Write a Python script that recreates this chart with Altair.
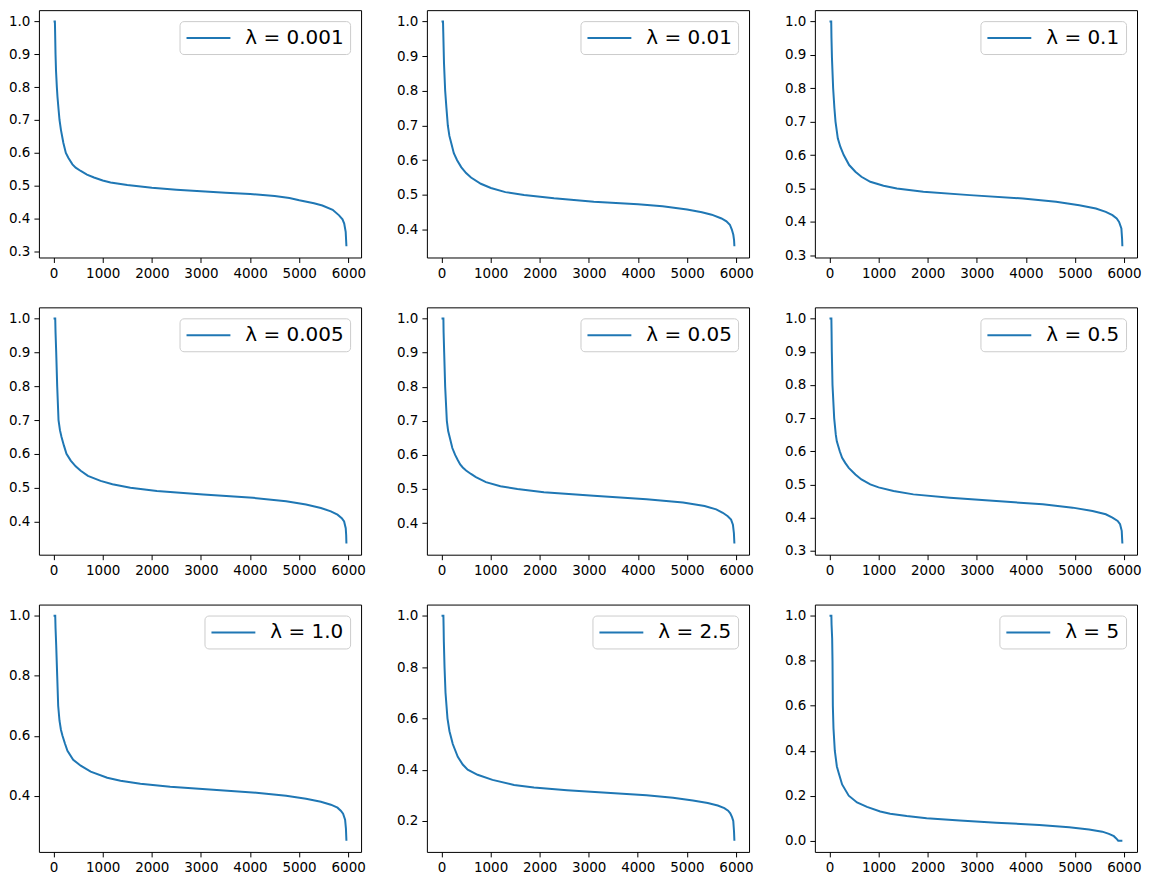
import altair as alt
import pandas as pd

COLOR = "#1f77b4"
X_TICKS = [0, 1000, 2000, 3000, 4000, 5000, 6000]

# ---- panel data ----
label_p1 = "λ = 0.001"
x_p1 = [0, 27, 30, 40, 50, 67, 80, 100, 121, 150, 200, 250, 300, 384, 450, 553, 680, 823, 1000, 1160,
        1500, 2000, 2500, 3000, 3500, 4000, 4500, 4800, 5000, 5300, 5470, 5680, 5810, 5880, 5915, 5945, 5960]
y_p1 = [1.0, 1.0, 0.98, 0.90, 0.85, 0.80, 0.77, 0.735, 0.70, 0.67, 0.63, 0.60, 0.585, 0.565, 0.555, 0.545,
        0.534, 0.525, 0.516, 0.51, 0.502, 0.494, 0.488, 0.483, 0.479, 0.475, 0.469, 0.463, 0.456, 0.447,
        0.44, 0.427, 0.41, 0.398, 0.385, 0.36, 0.316]
yt_p1 = [0.3, 0.4, 0.5, 0.6, 0.7, 0.8, 0.9, 1.0]

label_p2 = "λ = 0.01"
x_p2 = [0, 30, 35, 50, 74, 100, 128, 160, 196, 250, 317, 400, 500, 600, 800, 1005, 1300, 1680, 2290,
        3100, 4000, 4500, 5000, 5300, 5500, 5700, 5800, 5870, 5910, 5940, 5955, 5962]
y_p2 = [1.0, 1.0, 0.97, 0.88, 0.80, 0.75, 0.70, 0.67, 0.65, 0.62, 0.60, 0.58, 0.563, 0.55, 0.532, 0.52,
        0.508, 0.50, 0.49, 0.48, 0.473, 0.467, 0.458, 0.45, 0.443, 0.432, 0.424, 0.414, 0.40, 0.385,
        0.37, 0.352]
yt_p2 = [0.4, 0.5, 0.6, 0.7, 0.8, 0.9, 1.0]

label_p3 = "λ = 0.1"
x_p3 = [0, 35, 40, 50, 74, 100, 122, 169, 220, 290, 400, 527, 650, 831, 1100, 1372, 1912, 2858, 3940,
        4615, 5088, 5426, 5628, 5764, 5850, 5899, 5946, 5960, 5966]
y_p3 = [1.0, 1.0, 0.95, 0.89, 0.80, 0.74, 0.70, 0.65, 0.625, 0.60, 0.57, 0.55, 0.535, 0.52, 0.508, 0.50,
        0.49, 0.48, 0.47, 0.46, 0.45, 0.44, 0.43, 0.42, 0.41, 0.40, 0.38, 0.35, 0.327]
yt_p3 = [0.3, 0.4, 0.5, 0.6, 0.7, 0.8, 0.9, 1.0]

label_p4 = "λ = 0.005"
x_p4 = [0, 34, 40, 54, 74, 101, 130, 162, 210, 263, 350, 450, 553, 700, 958, 1200, 1565, 2105, 3050,
        4062, 4737, 5142, 5445, 5648, 5783, 5870, 5918, 5951, 5960, 5965]
y_p4 = [1.0, 1.0, 0.96, 0.90, 0.80, 0.70, 0.67, 0.65, 0.625, 0.60, 0.58, 0.563, 0.55, 0.535, 0.52, 0.51,
        0.50, 0.49, 0.48, 0.47, 0.46, 0.45, 0.44, 0.43, 0.42, 0.41, 0.40, 0.38, 0.36, 0.335]
yt_p4 = [0.4, 0.5, 0.6, 0.7, 0.8, 0.9, 1.0]

label_p5 = "λ = 0.05"
x_p5 = [0, 38, 42, 54, 74, 108, 135, 169, 220, 277, 330, 380, 432, 500, 600, 700, 904, 1200, 1545, 2085,
        3097, 4177, 4919, 5358, 5594, 5729, 5830, 5897, 5935, 5955, 5965]
y_p5 = [1.0, 1.0, 0.96, 0.90, 0.80, 0.70, 0.67, 0.65, 0.62, 0.60, 0.585, 0.572, 0.563, 0.554, 0.544,
        0.535, 0.52, 0.508, 0.50, 0.49, 0.48, 0.47, 0.46, 0.45, 0.44, 0.43, 0.42, 0.41, 0.395, 0.37, 0.34]
yt_p5 = [0.4, 0.5, 0.6, 0.7, 0.8, 0.9, 1.0]

label_p6 = "λ = 0.5"
x_p6 = [0, 38, 42, 47, 61, 95, 128, 149, 209, 257, 320, 392, 527, 650, 831, 1000, 1304, 1709, 2453, 3399,
        4345, 4953, 5358, 5628, 5764, 5870, 5919, 5953, 5966]
y_p6 = [1.0, 1.0, 0.96, 0.90, 0.80, 0.70, 0.65, 0.63, 0.60, 0.58, 0.565, 0.55, 0.53, 0.515, 0.50,
        0.491, 0.48, 0.47, 0.46, 0.45, 0.44, 0.43, 0.42, 0.41, 0.40, 0.39, 0.38, 0.36, 0.322]
yt_p6 = [0.3, 0.4, 0.5, 0.6, 0.7, 0.8, 0.9, 1.0]

label_p7 = "λ = 1.0"
x_p7 = [0, 34, 40, 54, 74, 94, 121, 150, 182, 230, 283, 400, 553, 756, 1093, 1363, 1768, 2375, 3252,
        4130, 4737, 5142, 5445, 5648, 5783, 5850, 5897, 5938, 5955, 5965]
y_p7 = [1.0, 1.0, 0.96, 0.90, 0.80, 0.70, 0.65, 0.62, 0.60, 0.575, 0.55, 0.52, 0.50, 0.48, 0.46, 0.45,
        0.44, 0.43, 0.42, 0.41, 0.40, 0.39, 0.38, 0.37, 0.36, 0.35, 0.34, 0.32, 0.29, 0.25]
yt_p7 = [0.4, 0.6, 0.8, 1.0]

label_p8 = "λ = 2.5"
x_p8 = [0, 38, 42, 47, 61, 81, 121, 162, 229, 331, 432, 533, 735, 1039, 1478, 1883, 2557, 3367, 4177,
        4717, 5122, 5425, 5628, 5763, 5840, 5884, 5920, 5945, 5960, 5968]
y_p8 = [1.0, 1.0, 0.96, 0.90, 0.80, 0.70, 0.60, 0.55, 0.50, 0.45, 0.42, 0.40, 0.38, 0.36, 0.34, 0.33,
        0.32, 0.31, 0.30, 0.29, 0.28, 0.27, 0.26, 0.25, 0.24, 0.23, 0.215, 0.20, 0.16, 0.123]
yt_p8 = [0.2, 0.4, 0.6, 0.8, 1.0]

label_p9 = "λ = 5"
x_p9 = [0, 38, 42, 54, 61, 68, 81, 108, 150, 189, 257, 392, 561, 764, 1034, 1236, 1574, 1980, 2655,
        3399, 4277, 4885, 5291, 5561, 5696, 5797, 5845, 5885, 5970]
y_p9 = [1.0, 1.0, 0.96, 0.90, 0.80, 0.60, 0.50, 0.40, 0.33, 0.30, 0.25, 0.20, 0.17, 0.15, 0.13, 0.12,
        0.11, 0.10, 0.09, 0.08, 0.07, 0.06, 0.05, 0.04, 0.03, 0.02, 0.01, 0.0, 0.0]
yt_p9 = [0.0, 0.2, 0.4, 0.6, 0.8, 1.0]

PANELS = [
    (x_p1, y_p1, label_p1, yt_p1), (x_p2, y_p2, label_p2, yt_p2), (x_p3, y_p3, label_p3, yt_p3),
    (x_p4, y_p4, label_p4, yt_p4), (x_p5, y_p5, label_p5, yt_p5), (x_p6, y_p6, label_p6, yt_p6),
    (x_p7, y_p7, label_p7, yt_p7), (x_p8, y_p8, label_p8, yt_p8), (x_p9, y_p9, label_p9, yt_p9),
]

W, H = 323, 248


def panel(xs, ys, label, yticks):
    df = pd.DataFrame({"x": xs, "y": ys, "label": label})
    xpad = 0.05 * (max(xs) - min(xs))
    ypad = 0.05 * (max(ys) - min(ys))
    return alt.Chart(df).mark_line(strokeWidth=2).encode(
        x=alt.X("x:Q",
                scale=alt.Scale(domain=[min(xs) - xpad, max(xs) + xpad], nice=False, zero=False),
                axis=alt.Axis(values=X_TICKS, format="d", title=None)),
        y=alt.Y("y:Q",
                scale=alt.Scale(domain=[min(ys) - ypad, max(ys) + ypad], nice=False, zero=False),
                axis=alt.Axis(values=yticks, format=".1f", title=None)),
        color=alt.Color("label:N",
                        scale=alt.Scale(domain=[label], range=[COLOR]),
                        legend=alt.Legend(
                            title=None, orient="top-right", offset=11, padding=6,
                            fillColor="rgba(255,255,255,0.8)", strokeColor="#cccccc",
                            cornerRadius=4, symbolType="M-1,0H3.4", symbolSize=400,
                            symbolStrokeWidth=2, symbolStrokeColor=COLOR,
                            symbolFillColor="transparent", labelFontSize=20,
                            labelFont="DejaVu Sans", labelColor="black",
                            labelOffset=38, labelLimit=300)),
    ).properties(width=W, height=H)


charts = [panel(*p) for p in PANELS]

chart = alt.concat(
    *charts, columns=3, spacing={"row": 50, "column": 66}, bounds="flush"
).resolve_scale(
    x="independent", y="independent", color="independent"
).resolve_legend(
    color="independent"
).properties(
    padding=0
).configure_view(
    stroke="black", strokeWidth=1
).configure_axis(
    domain=False, grid=False, tickColor="black", tickSize=5, tickWidth=1,
    labelPadding=4, labelFont="DejaVu Sans", labelFontSize=13.5, labelColor="black"
)

chart.save("out.html", embed_options={"renderer": "svg", "actions": False})
